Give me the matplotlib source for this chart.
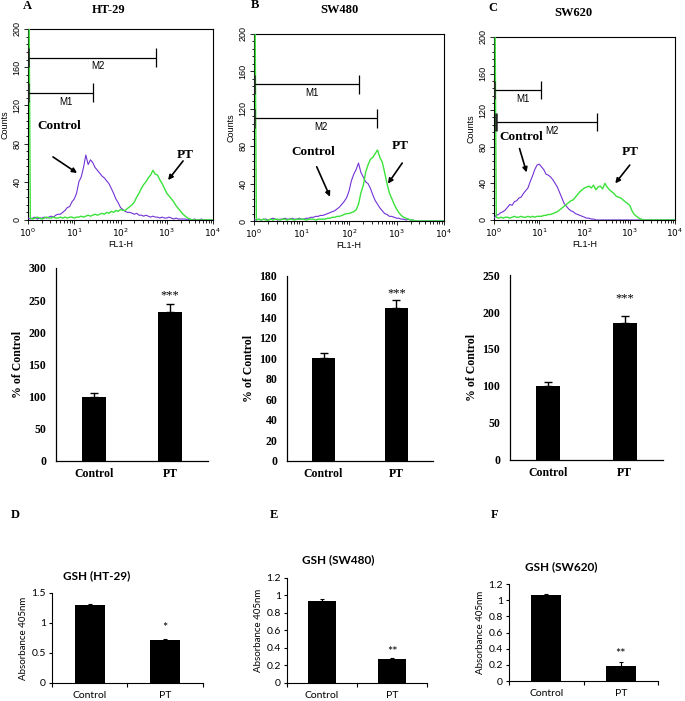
import numpy as np
import matplotlib.pyplot as plt
from matplotlib.ticker import MultipleLocator, LogLocator, NullFormatter

plt.rcParams['mathtext.fontset'] = 'custom'
plt.rcParams['mathtext.rm'] = 'Liberation Sans'
plt.rcParams['mathtext.it'] = 'Liberation Sans:italic'
plt.rcParams['mathtext.bf'] = 'Liberation Sans:bold'

# flow cytometry histograms (counts per channel, channels 0.05 decade apart, from 10^0)
ht29_control = [2, 1, 2, 3, 1, 2, 2, 3, 2, 3, 4, 3, 5, 6, 6, 8, 10, 13, 14, 19,
                22, 28, 40, 45, 55, 68, 58, 63, 60, 55, 52, 49, 46, 44, 41, 38, 33, 28, 22, 18,
                13, 11, 9, 8, 8, 7, 6, 7, 5, 5, 4, 5, 4, 3, 4, 3, 3, 2, 3, 2,
                2, 3, 2, 1, 2, 1, 1, 1, 1, 0, 1, 0, 1, 0, 0, 1, 0, 0, 0, 0, 0]
ht29_pt = [400, 2, 1, 2, 3, 2, 1, 2, 3, 2, 2, 3, 2, 2, 3, 2, 3, 2, 3, 3,
           2, 3, 3, 4, 3, 4, 5, 4, 5, 6, 5, 6, 7, 6, 8, 7, 9, 8, 10, 9,
           11, 10, 10, 12, 14, 16, 19, 24, 28, 33, 37, 40, 44, 47, 52, 48, 47, 42, 38, 33,
           28, 25, 22, 19, 15, 12, 9, 6, 4, 2, 1, 0, 0, 0, 0, 0, 0, 0, 0, 0, 0]
sw480_control = [2, 1, 2, 1, 2, 2, 1, 2, 3, 2, 1, 2, 2, 3, 2, 2, 3, 2, 2, 3,
                 2, 2, 3, 3, 4, 4, 5, 5, 6, 6, 7, 8, 9, 10, 11, 13, 15, 18, 21, 25,
                 32, 43, 50, 55, 62, 52, 47, 42, 40, 35, 28, 22, 18, 14, 11, 8, 7, 5, 5, 4,
                 3, 3, 2, 2, 1, 2, 1, 1, 0, 0, 0, 0, 0, 0, 0, 0, 0, 0, 0, 0, 0]
sw480_pt = [400, 1, 2, 1, 2, 1, 1, 2, 1, 2, 2, 1, 2, 2, 1, 2, 2, 1, 2, 2,
            2, 2, 1, 2, 2, 2, 1, 2, 2, 2, 2, 3, 3, 4, 4, 5, 5, 6, 7, 8,
            8, 9, 10, 12, 18, 30, 38, 52, 60, 66, 68, 72, 76, 68, 63, 52, 40, 30, 24, 18,
            13, 9, 6, 4, 3, 2, 1, 1, 0, 0, 0, 0, 0, 0, 0, 0, 0, 0, 0, 0, 0]
sw620_control = [2, 5, 6, 8, 9, 11, 14, 17, 16, 20, 21, 24, 25, 29, 32, 35, 42, 48, 55, 60,
                 61, 58, 55, 50, 49, 47, 44, 40, 36, 30, 24, 18, 15, 12, 10, 9, 7, 6, 5, 4,
                 3, 2, 2, 1, 1, 0, 0, 0, 0, 0, 0, 0, 0, 0, 0, 0, 0, 0, 0, 0,
                 0, 0, 0, 0, 0, 0, 0, 0, 0, 0, 0, 0, 0, 0, 0, 0, 0, 0, 0, 0, 0]
sw620_pt = [400, 3, 2, 3, 2, 3, 3, 2, 3, 4, 3, 3, 4, 3, 3, 4, 3, 4, 3, 4,
            4, 4, 5, 5, 6, 6, 7, 8, 9, 11, 13, 15, 17, 19, 21, 22, 25, 28, 31, 33,
            35, 36, 37, 35, 38, 33, 36, 37, 34, 40, 36, 33, 31, 29, 26, 25, 24, 22, 20, 18,
            16, 10, 6, 4, 2, 1, 0, 0, 0, 0, 0, 0, 0, 0, 0, 0, 0, 0, 0, 0, 0]

# marker gates
gate_names = ['M1', 'M2']
ht29_gate_lo, ht29_gate_hi, ht29_gate_y = [1, 1], [25, 590], [133, 170]
sw480_gate_lo, sw480_gate_hi, sw480_gate_y = [1, 1], [166, 380], [146, 110]
sw620_gate_lo, sw620_gate_hi, sw620_gate_y = [1, 1.1], [11, 186], [142, 107]

# ROS bar charts (% of control)
groups = ['Control', 'PT']
ht29_ros, ht29_ros_err = [100, 232], [5, 12]
sw480_ros, sw480_ros_err = [100, 149], [5, 7.5]
sw620_ros, sw620_ros_err = [100, 185], [5, 10]

# GSH absorbance
ht29_gsh, ht29_gsh_err = [1.30, 0.71], [0.01, 0.02]
sw480_gsh, sw480_gsh_err = [0.937, 0.27], [0.02, 0.01]
sw620_gsh, sw620_gsh_err = [1.07, 0.19], [0.005, 0.04]

purple = '#7232d6'
green = '#3ae23a'
serif = 'Liberation Serif'
sans = 'Liberation Sans'
calibri = 'Lato'

fig = plt.figure(figsize=(6.85, 7.01), dpi=100)


def flow_panel(rect, control, pt, lo, hi, gy, ann, ylabel=True):
    ax = fig.add_axes(rect)
    ax.plot(10 ** (np.arange(len(control)) * 0.05), control, color=purple, lw=0.8, zorder=3)
    ax.plot(10 ** (np.arange(len(pt)) * 0.05), pt, color=green, lw=1.0, zorder=3)
    ax.set_xscale('log')
    ax.set_xlim(1, 1e4)
    ax.set_ylim(0, 200)
    ax.yaxis.set_major_locator(MultipleLocator(40))
    ax.yaxis.set_minor_locator(MultipleLocator(8))
    ax.xaxis.set_major_locator(LogLocator(base=10, numticks=10))
    ax.xaxis.set_minor_locator(LogLocator(base=10, subs=np.arange(2, 10), numticks=10))
    ax.xaxis.set_minor_formatter(NullFormatter())
    ax.tick_params(which='both', direction='out', width=0.6, labelsize=6.5, pad=1.5)
    ax.tick_params(which='major', length=3)
    ax.tick_params(which='minor', length=1.8)
    ax.tick_params(axis='y', labelrotation=90)
    for lbl in ax.get_yticklabels():
        lbl.set_va('center')
        lbl.set_family(sans)
    for s in ax.spines.values():
        s.set_linewidth(0.8)
    ax.set_xlabel('FL1-H', fontsize=6.5, family=sans, labelpad=1)
    if ylabel:
        ax.set_ylabel('Counts', fontsize=6.5, family=sans, labelpad=2)
    # gates
    for name, a, b, y in zip(gate_names, lo, hi, gy):
        ax.hlines(y, a, b, color='black', lw=0.9, zorder=4)
        ax.vlines(b, y - 10, y + 10, color='black', lw=0.9, zorder=4)
        ax.vlines(a, y - 10, y + 10, color='#222222', lw=1.8, zorder=4)
        ax.text(np.sqrt(a * b) * 10 ** 0.12, y - 4, name, fontsize=7, family=sans,
                ha='center', va='top')
    # arrows and labels
    for txt, tpos, tail, head in ann:
        ax.text(tpos[0], tpos[1], txt, transform=ax.transAxes, fontsize=9.5, family=serif,
                fontweight='bold', ha='center', va='center')
        ax.annotate('', xy=head, xytext=tail, xycoords='axes fraction',
                    arrowprops=dict(arrowstyle='-|>', color='black', lw=1.2,
                                    mutation_scale=7, shrinkA=0, shrinkB=0))
    return ax


def pct_panel(rect, vals, errs, ymax, ystep, star_y):
    ax = fig.add_axes(rect)
    x = np.arange(len(groups))
    ax.bar(x, vals, width=0.32, color='black')
    ax.errorbar(x, vals, yerr=[np.zeros(len(vals)), errs], fmt='none', ecolor='black',
                elinewidth=1.0, capsize=3, capthick=1.0)
    ax.text(1, star_y, '***', ha='center', va='center', fontsize=9, family=serif)
    ax.set_xlim(-0.5, 1.5)
    ax.set_ylim(0, ymax)
    ax.set_yticks(np.arange(0, ymax + 1, ystep))
    ax.set_xticks(x, groups)
    ax.spines[['top', 'right']].set_visible(False)
    for s in ['left', 'bottom']:
        ax.spines[s].set_linewidth(0.9)
    ax.tick_params(length=0, labelsize=8.5)
    ax.tick_params(axis='y', pad=7)
    ax.tick_params(axis='x', pad=5)
    for lbl in ax.get_xticklabels() + ax.get_yticklabels():
        lbl.set_family(serif)
        lbl.set_fontweight('bold')
    ax.set_ylabel('% of Control', fontsize=8.5, family=serif, fontweight='bold', labelpad=3)
    return ax


def gsh_panel(rect, vals, errs, yticks, ylabels, star, star_y):
    ax = fig.add_axes(rect)
    x = np.arange(len(groups))
    ax.bar(x, vals, width=0.4, color='black')
    ax.errorbar(x, vals, yerr=[np.zeros(len(vals)), errs], fmt='none', ecolor='black',
                elinewidth=0.8, capsize=1.5, capthick=0.8)
    ax.text(1, star_y, star, ha='center', va='center', fontsize=9, family=calibri)
    ax.set_xlim(-0.5, 1.5)
    ax.set_ylim(0, yticks[-1])
    ax.set_yticks(yticks, ylabels)
    ax.set_xticks(x, groups)
    ax.set_xticks([-0.5, 0.5, 1.5], minor=True)
    ax.spines[['top', 'right']].set_visible(False)
    for s in ['left', 'bottom']:
        ax.spines[s].set_linewidth(0.8)
    ax.tick_params(axis='x', which='major', length=0, pad=6)
    ax.tick_params(axis='x', which='minor', length=3, width=0.8)
    ax.tick_params(axis='y', length=2.5, width=0.8, pad=2)
    ax.tick_params(labelsize=7.5)
    for lbl in ax.get_xticklabels() + ax.get_yticklabels():
        lbl.set_family(calibri)
    ax.set_ylabel('Absorbance 405nm', fontsize=7, family=calibri, labelpad=2)
    return ax


# row 1: flow histograms
flow_panel([0.0409, 0.6862, 0.2701, 0.2725], ht29_control, ht29_pt,
           ht29_gate_lo, ht29_gate_hi, ht29_gate_y,
           [('Control', (0.17, 0.49), (0.135, 0.33), (0.265, 0.246)),
            ('PT', (0.85, 0.34), (0.838, 0.309), (0.757, 0.209))])
flow_panel([0.3708, 0.6847, 0.2774, 0.2668], sw480_control, sw480_pt,
           sw480_gate_lo, sw480_gate_hi, sw480_gate_y,
           [('Control', (0.31, 0.37), (0.33, 0.29), (0.40, 0.13)),
            ('PT', (0.77, 0.40), (0.78, 0.31), (0.705, 0.20))])
flow_panel([0.7212, 0.6862, 0.2642, 0.2611], sw620_control, sw620_pt,
           sw620_gate_lo, sw620_gate_hi, sw620_gate_y,
           [('Control', (0.152, 0.454), (0.141, 0.39), (0.18, 0.26)),
            ('PT', (0.75, 0.37), (0.75, 0.30), (0.67, 0.20))])

# row 2: % of control
pct_panel([0.0818, 0.3424, 0.2219, 0.2753], ht29_ros, ht29_ros_err, 300, 50, 258)
pct_panel([0.4190, 0.3424, 0.2131, 0.2639], sw480_ros, sw480_ros_err, 180, 20, 163)
pct_panel([0.7445, 0.3438, 0.2234, 0.2639], sw620_ros, sw620_ros_err, 250, 50, 218)

# row 3: GSH
gsh_panel([0.0759, 0.0257, 0.2204, 0.1284], ht29_gsh, ht29_gsh_err,
          [0, 0.5, 1, 1.5], ['0', '0.5', '1', '1.5'], '*', 0.92)
e_ticks = [0, 0.2, 0.4, 0.6, 0.8, 1, 1.2]
e_labels = ['0', '0.2', '0.4', '0.6', '0.8', '1', '1.2']
gsh_panel([0.4190, 0.0257, 0.2044, 0.1498], sw480_gsh, sw480_gsh_err,
          e_ticks, e_labels, '**', 0.35)
gsh_panel([0.7431, 0.0285, 0.2175, 0.1384], sw620_gsh, sw620_gsh_err,
          e_ticks, e_labels, '**', 0.34)

# titles and panel letters
for txt, x, y in [('HT-29', 0.158, 0.9857), ('SW480', 0.496, 0.9857), ('SW620', 0.8365, 0.9815)]:
    fig.text(x, y, txt, ha='center', va='center', fontsize=9, family=serif, fontweight='bold')
for txt, x, y in [('A', 0.0394, 0.9914), ('B', 0.372, 0.9929), ('C', 0.7197, 0.9886),
                  ('D', 0.0219, 0.2653), ('E', 0.40, 0.2653), ('F', 0.7226, 0.2653)]:
    fig.text(x, y, txt, ha='center', va='center', fontsize=9, family=serif, fontweight='bold')
for txt, x, y in [('GSH (HT-29)', 0.1416, 0.1783), ('GSH (SW480)', 0.4934, 0.2011),
                  ('GSH (SW620)', 0.819, 0.1912)]:
    fig.text(x, y, txt, ha='center', va='center', fontsize=8.5, family=calibri, fontweight='bold')

fig.savefig('out.png', dpi=100)
